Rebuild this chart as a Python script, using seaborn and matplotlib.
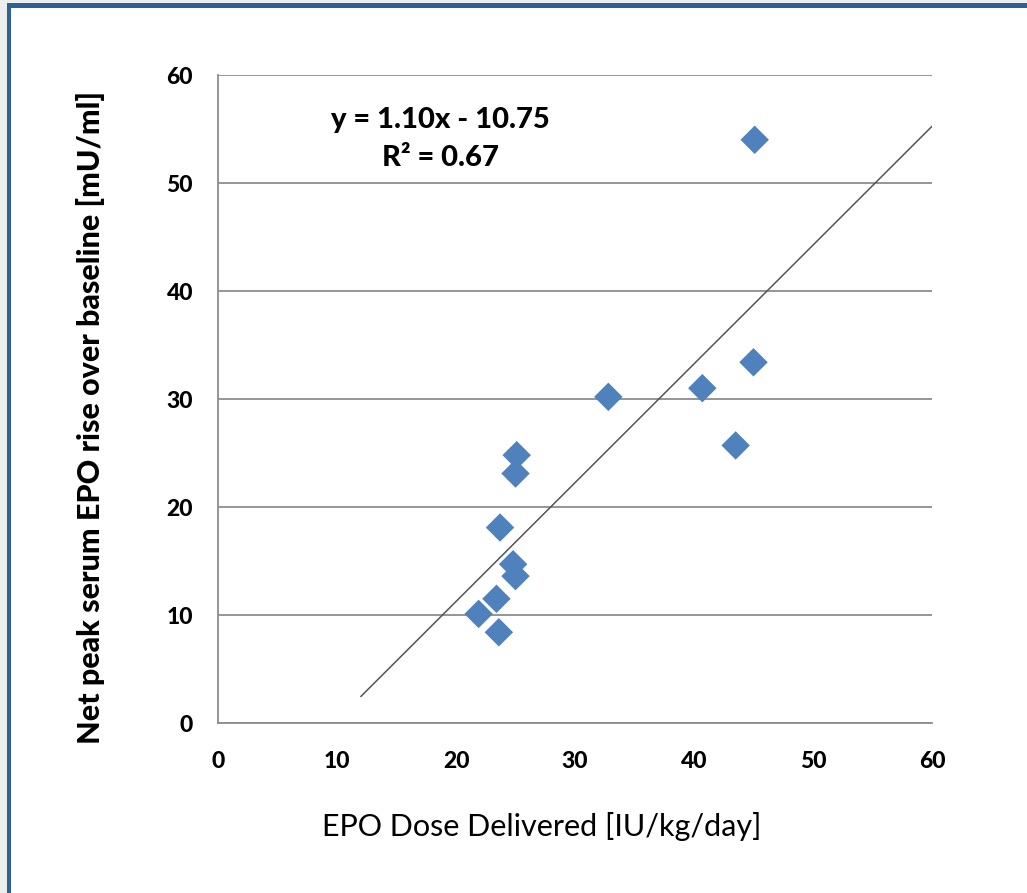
import numpy as np
import pandas as pd
import matplotlib
matplotlib.use("Agg")
import matplotlib.pyplot as plt
import seaborn as sns
from matplotlib.patches import Rectangle

sns.set_theme(style="white")
plt.rcParams['font.family'] = ['Lato', 'DejaVu Sans']
plt.rcParams['text.color'] = 'black'

# Data
dose = [45.1, 45.0, 40.7, 32.8, 43.5, 25.1, 25.0, 23.7, 24.8, 25.0, 23.4, 21.9, 23.6]
epo_rise = [54.0, 33.4, 31.0, 30.2, 25.7, 24.8, 23.1, 18.1, 14.7, 13.6, 11.5, 10.1, 8.4]
ticks = [0, 10, 20, 30, 40, 50, 60]
tick_labels = [str(t) for t in ticks]

# Linear trendline as printed on the chart
slope = 1.10
intercept = -10.75
fit_x = [12, 60]

df = pd.DataFrame({"dose": dose, "rise": epo_rise})
fit = pd.DataFrame({"x": fit_x, "y": [slope * v + intercept for v in fit_x]})

fig = plt.figure(figsize=(10.27, 8.93), dpi=100)
fig.patch.set_facecolor("white")

# outer frame (light gray margin + blue border on left/top)
fig.patches.append(Rectangle((0, 0), 7 / 1027, 1, transform=fig.transFigure,
                             facecolor="#eeeeee", edgecolor="none", zorder=0))
fig.patches.append(Rectangle((0, 1 - 3 / 893), 1, 3 / 893, transform=fig.transFigure,
                             facecolor="#eeeeee", edgecolor="none", zorder=0))
fig.patches.append(Rectangle((7 / 1027, 0), 4 / 1027, 1 - 3 / 893, transform=fig.transFigure,
                             facecolor="#2f6199", edgecolor="none", zorder=1))
fig.patches.append(Rectangle((7 / 1027, 1 - 8 / 893), 1, 5 / 893, transform=fig.transFigure,
                             facecolor="#2f6199", edgecolor="none", zorder=1))

ax = fig.add_axes([218 / 1027, 170 / 893, 714 / 1027, 648 / 893])
ax.set_facecolor("white")

ax.yaxis.grid(True, color="#8c8c8c", linewidth=1.3)
ax.xaxis.grid(False)
ax.set_axisbelow(True)

sns.lineplot(data=fit, x="x", y="y", ax=ax, color="#555555", linewidth=1.1, zorder=2)
sns.scatterplot(data=df, x="dose", y="rise", ax=ax, marker="D", s=210,
                color="#4f81bd", edgecolor="none", zorder=3, clip_on=False)

ax.set_xlim(0, 60)
ax.set_ylim(0, 60)
ax.set_xticks(ticks, tick_labels, fontweight="black", fontsize=16.5)
ax.set_yticks(ticks, tick_labels, fontweight="black", fontsize=16.5)

for side in ["top", "right"]:
    ax.spines[side].set_visible(False)
for side in ["left", "bottom"]:
    ax.spines[side].set_color("#8c8c8c")
    ax.spines[side].set_linewidth(1.3)

ax.tick_params(axis="both", which="major", direction="out", length=6, width=1.2,
               color="#8c8c8c", pad=12, labelcolor="black")
ax.tick_params(axis="x", pad=14)

ax.set_xlabel("EPO Dose Delivered [IU/kg/day]", fontsize=22, color="black")
ax.xaxis.set_label_coords(0.454, -0.138)
ax.set_ylabel("Net peak serum EPO rise over baseline [mU/ml]", fontsize=22,
              fontweight="black", color="black")
ax.yaxis.set_label_coords(-0.158, 0.472)

ax.text(0.311, 0.951, "y = 1.10x - 10.75\nR\u00b2 = 0.67", transform=ax.transAxes,
        ha="center", va="top", fontsize=21, fontweight="black", color="black",
        linespacing=1.6)

fig.savefig("out.png", dpi=100)
